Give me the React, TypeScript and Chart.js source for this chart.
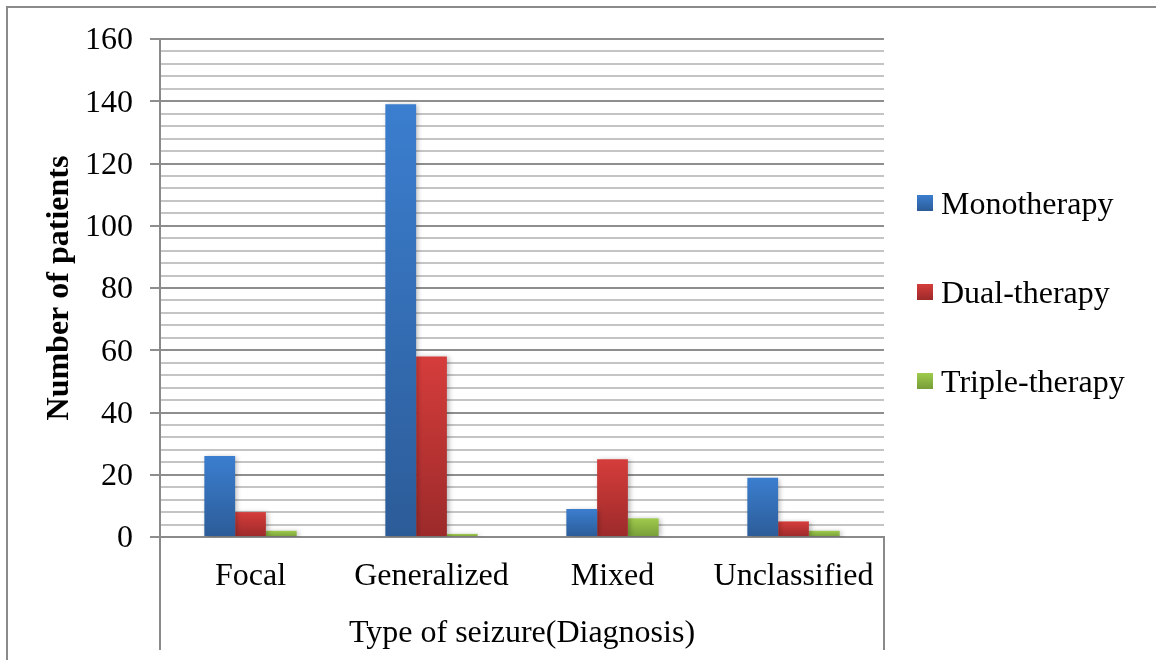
import React, { useEffect, useRef } from "react";
import { Chart, registerables } from "chart.js";

Chart.register(...registerables);

const categories = ["Focal", "Generalized", "Mixed", "Unclassified"];
const seriesNames = ["Monotherapy", "Dual-therapy", "Triple-therapy"];
const monotherapy = [26, 139, 9, 19];
const dualTherapy = [8, 58, 25, 5];
const tripleTherapy = [2, 1, 6, 2];
const yMin = 0;
const yMax = 160;
const yStep = 4;
const yLabelStep = 20;
const xTitle = "Type of seizure(Diagnosis)";
const yTitle = "Number of patients";

const gradients: [string, string][] = [
  ["#3b7ecf", "#2c5c98"],
  ["#d53d3b", "#9c2a2a"],
  ["#9fcb4d", "#769d38"],
];

const FONT = '"Liberation Serif", "Times New Roman", serif';

function barGradient(idx: number) {
  return (ctx: any) => {
    const chart = ctx.chart;
    const y = chart.scales?.y;
    if (!y || ctx.type !== "data") return gradients[idx][0];
    const v = ctx.parsed?.y ?? 0;
    const top = y.getPixelForValue(v);
    const bottom = y.getPixelForValue(0);
    if (!isFinite(top) || !isFinite(bottom) || top === bottom) return gradients[idx][0];
    const g = chart.ctx.createLinearGradient(0, top, 0, bottom);
    g.addColorStop(0, gradients[idx][0]);
    g.addColorStop(1, gradients[idx][1]);
    return g;
  };
}

const decorPlugin = {
  id: "decor",
  beforeDatasetsDraw(chart: any) {
    const c = chart.ctx;
    c.shadowColor = "rgba(0,0,0,0.28)";
    c.shadowBlur = 5;
    c.shadowOffsetX = 2;
    c.shadowOffsetY = 1;
  },
  afterDatasetsDraw(chart: any) {
    const c = chart.ctx;
    c.shadowColor = "rgba(0,0,0,0)";
    c.shadowBlur = 0;
    c.shadowOffsetX = 0;
    c.shadowOffsetY = 0;
  },
  afterDraw(chart: any) {
    const c = chart.ctx;
    const a = chart.chartArea;
    c.save();
    c.strokeStyle = "#8a8a8a";
    c.lineWidth = 2;
    // outer frame
    c.beginPath();
    c.moveTo(7, 660);
    c.lineTo(7, 7);
    c.lineTo(1156, 7);
    c.stroke();
    // category axis box extensions
    c.beginPath();
    c.moveTo(a.left, a.bottom);
    c.lineTo(a.left, 650);
    c.moveTo(a.right, a.bottom);
    c.lineTo(a.right, 650);
    c.stroke();
    // legend
    const ys = [203, 292, 381];
    c.font = `32px ${FONT}`;
    c.textBaseline = "middle";
    c.textAlign = "left";
    seriesNames.forEach((name, i) => {
      const yc = ys[i];
      const g = c.createLinearGradient(0, yc - 8, 0, yc + 8);
      g.addColorStop(0, gradients[i][0]);
      g.addColorStop(1, gradients[i][1]);
      c.fillStyle = g;
      c.fillRect(917, yc - 8, 16, 16);
      c.fillStyle = "#000";
      c.fillText(name, 941, yc + 3);
    });
    c.restore();
  },
};

export default function App() {
  const ref = useRef<HTMLCanvasElement>(null);
  useEffect(() => {
    if (!ref.current) return;
    const chart = new Chart(ref.current, {
      type: "bar",
      data: {
        labels: categories,
        datasets: [monotherapy, dualTherapy, tripleTherapy].map((d, i) => ({
          label: seriesNames[i],
          data: d,
          backgroundColor: barGradient(i),
          borderWidth: 0,
          categoryPercentage: 0.51,
          barPercentage: 1,
        })),
      },
      options: {
        animation: false,
        responsive: false,
        devicePixelRatio: 1,
        layout: { padding: { left: 0, top: 39, right: 272, bottom: 0 } },
        plugins: {
          legend: { display: false },
          tooltip: { enabled: false },
        },
        scales: {
          x: {
            grid: { display: false, drawTicks: false },
            border: { display: true, color: "#8a8a8a", width: 2 },
            ticks: {
              color: "#000",
              font: { family: FONT, size: 32 },
              padding: 20,
              maxRotation: 0,
            },
            title: {
              display: true,
              text: xTitle,
              color: "#000",
              font: { family: FONT, size: 32 },
              padding: { top: 0, bottom: 7 },
            },
            afterFit(scale: any) {
              scale.height = 123;
            },
          },
          y: {
            min: yMin,
            max: yMax,
            grid: {
              color: (ctx: any) =>
                ctx.tick && ctx.tick.value % yLabelStep === 0 ? "#8e8e8e" : "#c4c4c4",
              tickColor: (ctx: any) =>
                ctx.tick && ctx.tick.value % yLabelStep === 0 ? "#8e8e8e" : "rgba(0,0,0,0)",
              lineWidth: 2,
              tickLength: 10,
            },
            border: { display: true, color: "#8a8a8a", width: 2 },
            ticks: {
              stepSize: yStep,
              autoSkip: false,
              color: "#000",
              font: { family: FONT, size: 32 },
              padding: 17,
              labelOffset: 2,
              callback: (v: any) => (Number(v) % yLabelStep === 0 ? String(v) : ""),
            },
            title: {
              display: true,
              text: yTitle,
              color: "#000",
              font: { family: FONT, size: 32, weight: "bold" },
              padding: { top: 41, bottom: 0 },
            },
            afterFit(scale: any) {
              scale.width = 160;
            },
          },
        },
      },
      plugins: [decorPlugin],
    } as any);
    return () => chart.destroy();
  }, []);
  return (
    <div style={{ position: "fixed", left: 0, top: 0, width: 1156, height: 660, background: "#fff" }}>
      <canvas ref={ref} width={1156} height={660} style={{ display: "block" }} />
    </div>
  );
}
